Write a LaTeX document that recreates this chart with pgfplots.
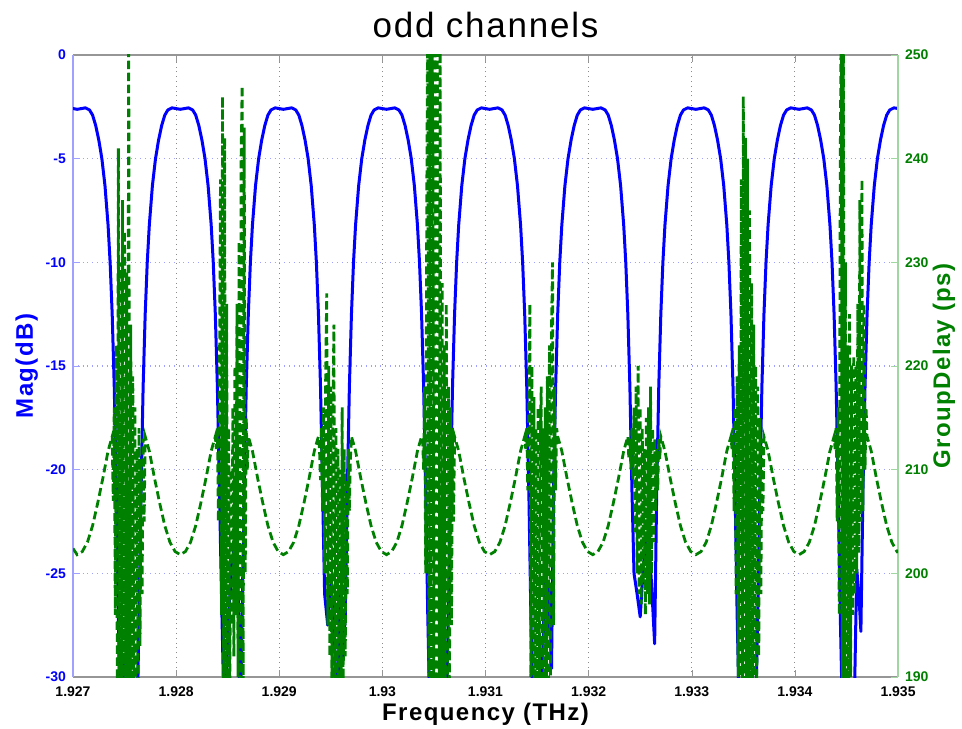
\documentclass[border=0pt]{standalone}
\usepackage{fontspec}
\setmainfont{Liberation Sans}
\usepackage{pgfplots}
\pgfplotsset{compat=1.18}
\definecolor{mblue}{RGB}{0,0,255}
\definecolor{mgreen}{RGB}{0,128,0}
\definecolor{gridblue}{RGB}{160,160,255}
\definecolor{spinegreen}{RGB}{160,215,160}
\definecolor{spinegray}{RGB}{150,150,150}
\newcommand{\tickfont}{\fontsize{7}{8}\selectfont\bfseries}
\newcommand{\labfont}{\fontsize{12}{14}\selectfont\bfseries\addfontfeatures{LetterSpace=6}}
\begin{document}
\begin{tikzpicture}
\path[use as bounding box] (-36.5pt,-25.5pt) rectangle (444.5pt,338.5pt);
\begin{axis}[
  at={(0pt,0pt)}, anchor=south west,
  scale only axis, width=412.5pt, height=311pt,
  xmin=1.927, xmax=1.935, ymin=-30, ymax=0,
  xtick={1.927,1.928,1.929,1.930,1.931,1.932,1.933,1.934,1.935},
  xticklabels={1.927,1.928,1.929,1.93,1.931,1.932,1.933,1.934,1.935},
  ytick={-30,-25,-20,-15,-10,-5,0},
  scaled x ticks=false, scaled y ticks=false,
  /pgf/number format/assume math mode=true,
  axis x line*=box, axis y line*=left,
  x axis line style={spinegray, line width=0.8pt},
  y axis line style={gridblue, line width=0.8pt},
  xtick style={spinegray}, ytick style={gridblue},
  major tick length=3.5pt, tick align=inside,
  xmajorgrids, ymajorgrids,
  x grid style={dotted, black!45, line width=0.6pt},
  y grid style={dotted, gridblue, line width=0.6pt},
  xticklabel style={font=\tickfont, text=black, yshift=-1.5pt},
  yticklabel style={font=\tickfont, text=mblue},
  title={odd channels},
  title style={font=\fontsize{17.5}{20}\selectfont\addfontfeatures{LetterSpace=5}, at={(0.5,1)}, anchor=base, yshift=2.5pt},
  xlabel={Frequency (THz)},
  xlabel style={font=\labfont, text=black, at={(axis description cs:0.5,0)}, anchor=base, yshift=-21.5pt},
  ylabel={Mag(dB)},
  ylabel style={font=\labfont, text=mblue, at={(axis description cs:-0.0485,0.5)}, anchor=base},
]
\addplot[mblue, line width=1.5pt, line join=round, no marks] coordinates {
(1.92700,-2.58) (1.92704,-2.62) (1.92712,-2.55) (1.92716,-2.65) (1.92719,-2.9) (1.92722,-3.4) (1.92725,-4.1) (1.92728,-5.0) (1.92731,-6.3) (1.92734,-8.2) (1.92736,-10) (1.92738,-12.5) (1.92740,-16) (1.92742,-21)
(1.92744,-27) (1.92746,-34) (1.92750,-29) (1.92752,-35) (1.92755,-28) (1.92757,-36) (1.92760,-30.5) (1.92762,-33) (1.92764,-27)
(1.92766,-21) (1.92768,-16) (1.92770,-12.5) (1.92772,-10) (1.92774,-8.2) (1.92777,-6.3) (1.92780,-5.0) (1.92783,-4.1) (1.92786,-3.4) (1.92789,-2.9) (1.92792,-2.65) (1.92796,-2.55) (1.92804,-2.62) (1.92812,-2.55) (1.92816,-2.65) (1.92819,-2.9) (1.92822,-3.4) (1.92825,-4.1) (1.92828,-5.0) (1.92831,-6.3) (1.92834,-8.2) (1.92836,-10) (1.92838,-12.5) (1.92840,-16) (1.92842,-21)
(1.92844,-26) (1.92847,-33) (1.92850,-28) (1.92854,-24.5) (1.92857,-23.4) (1.92860,-25) (1.92862,-33) (1.92864,-27)
(1.92866,-21) (1.92868,-16) (1.92870,-12.5) (1.92872,-10) (1.92874,-8.2) (1.92877,-6.3) (1.92880,-5.0) (1.92883,-4.1) (1.92886,-3.4) (1.92889,-2.9) (1.92892,-2.65) (1.92896,-2.55) (1.92904,-2.62) (1.92912,-2.55) (1.92916,-2.65) (1.92919,-2.9) (1.92922,-3.4) (1.92925,-4.1) (1.92928,-5.0) (1.92931,-6.3) (1.92934,-8.2) (1.92936,-10) (1.92938,-12.5) (1.92940,-16) (1.92942,-21)
(1.92944,-26) (1.92947,-27.5) (1.92950,-25.5) (1.92953,-27) (1.92956,-33) (1.92959,-25.8) (1.92962,-29) (1.92964,-27)
(1.92966,-21) (1.92968,-16) (1.92970,-12.5) (1.92972,-10) (1.92974,-8.2) (1.92977,-6.3) (1.92980,-5.0) (1.92983,-4.1) (1.92986,-3.4) (1.92989,-2.9) (1.92992,-2.65) (1.92996,-2.55) (1.93004,-2.62) (1.93012,-2.55) (1.93016,-2.65) (1.93019,-2.9) (1.93022,-3.4) (1.93025,-4.1) (1.93028,-5.0) (1.93031,-6.3) (1.93034,-8.2) (1.93036,-10) (1.93038,-12.5) (1.93040,-16) (1.93042,-21)
(1.93044,-27) (1.93047,-34) (1.93054,-36) (1.93061,-34) (1.93064,-27)
(1.93066,-21) (1.93068,-16) (1.93070,-12.5) (1.93072,-10) (1.93074,-8.2) (1.93077,-6.3) (1.93080,-5.0) (1.93083,-4.1) (1.93086,-3.4) (1.93089,-2.9) (1.93092,-2.65) (1.93096,-2.55) (1.93104,-2.62) (1.93112,-2.55) (1.93116,-2.65) (1.93119,-2.9) (1.93122,-3.4) (1.93125,-4.1) (1.93128,-5.0) (1.93131,-6.3) (1.93134,-8.2) (1.93136,-10) (1.93138,-12.5) (1.93140,-16) (1.93142,-21)
(1.93144,-27) (1.93147,-34) (1.93152,-35) (1.93156,-28) (1.93158,-25) (1.93160,-27.7) (1.93162,-25.5) (1.93164,-29.6)
(1.93166,-21) (1.93168,-16) (1.93170,-12.5) (1.93172,-10) (1.93174,-8.2) (1.93177,-6.3) (1.93180,-5.0) (1.93183,-4.1) (1.93186,-3.4) (1.93189,-2.9) (1.93192,-2.65) (1.93196,-2.55) (1.93204,-2.62) (1.93212,-2.55) (1.93216,-2.65) (1.93219,-2.9) (1.93222,-3.4) (1.93225,-4.1) (1.93228,-5.0) (1.93231,-6.3) (1.93234,-8.2) (1.93236,-10) (1.93238,-12.5) (1.93240,-16) (1.93242,-21)
(1.93244,-25) (1.93247,-26) (1.93250,-27.1) (1.93252,-25.5) (1.93255,-23.5) (1.93258,-23.2) (1.93261,-25.5) (1.93264,-28.4)
(1.93266,-21) (1.93268,-16) (1.93270,-12.5) (1.93272,-10) (1.93274,-8.2) (1.93277,-6.3) (1.93280,-5.0) (1.93283,-4.1) (1.93286,-3.4) (1.93289,-2.9) (1.93292,-2.65) (1.93296,-2.55) (1.93304,-2.62) (1.93312,-2.55) (1.93316,-2.65) (1.93319,-2.9) (1.93322,-3.4) (1.93325,-4.1) (1.93328,-5.0) (1.93331,-6.3) (1.93334,-8.2) (1.93336,-10) (1.93338,-12.5) (1.93340,-16) (1.93342,-21)
(1.93344,-27) (1.93347,-34) (1.93354,-36) (1.93361,-34) (1.93364,-27)
(1.93366,-21) (1.93368,-16) (1.93370,-12.5) (1.93372,-10) (1.93374,-8.2) (1.93377,-6.3) (1.93380,-5.0) (1.93383,-4.1) (1.93386,-3.4) (1.93389,-2.9) (1.93392,-2.65) (1.93396,-2.55) (1.93404,-2.62) (1.93412,-2.55) (1.93416,-2.65) (1.93419,-2.9) (1.93422,-3.4) (1.93425,-4.1) (1.93428,-5.0) (1.93431,-6.3) (1.93434,-8.2) (1.93436,-10) (1.93438,-12.5) (1.93440,-16) (1.93442,-21)
(1.93444,-27) (1.93447,-34) (1.93452,-35) (1.93457,-33) (1.93460,-24.8) (1.93462,-26) (1.93464,-27.8)
(1.93466,-21) (1.93468,-16) (1.93470,-12.5) (1.93472,-10) (1.93474,-8.2) (1.93477,-6.3) (1.93480,-5.0) (1.93483,-4.1) (1.93486,-3.4) (1.93489,-2.9) (1.93492,-2.65) (1.93496,-2.55) (1.93500,-2.58)
};
\end{axis}
\begin{axis}[
  at={(0pt,0pt)}, anchor=south west,
  scale only axis, width=412.5pt, height=311pt,
  xmin=1.927, xmax=1.935, ymin=190, ymax=250,
  ytick={190,200,210,220,230,240,250},
  scaled y ticks=false,
  /pgf/number format/assume math mode=true,
  axis x line=none, axis y line*=right,
  y axis line style={spinegreen, line width=0.8pt},
  ytick style={spinegreen}, major tick length=3.5pt, tick align=inside,
  yticklabel style={font=\tickfont, text=mgreen},
  ylabel={GroupDelay (ps)},
  ylabel style={font=\labfont, text=mgreen, at={(axis description cs:1.063,0.5)}, anchor=base},
]
\addplot[mgreen, line width=1.4pt, dash pattern=on 4pt off 2pt, no marks] coordinates {
(1.92700,202.4) (1.92704,201.8) (1.92709,202.1) (1.92714,203.0) (1.92719,204.6) (1.92724,206.8) (1.92729,209.2) (1.92734,211.8) (1.92738,213.2)
(1.92739,207) (1.92740,216) (1.92741,196) (1.92742,222) (1.92743,188) (1.92744,241) (1.92745,185) (1.92746,230) (1.92747,184) (1.92748,236) (1.92749,186) (1.92750,233) (1.92751,184) (1.92752,229) (1.92753,185) (1.92754,256) (1.92755,184) (1.92756,224) (1.92757,186) (1.92758,219) (1.92759,184) (1.92760,216) (1.92761,187) (1.92762,212) (1.92763,189) (1.92764,214) (1.92765,193) (1.92766,211) (1.92767,198) (1.92768,213) (1.92769,205)
(1.92770,213.2) (1.92774,211.8) (1.92779,209.2) (1.92784,206.8) (1.92789,204.6) (1.92794,203.0) (1.92799,202.1) (1.92804,201.8) (1.92809,202.1) (1.92814,203.0) (1.92819,204.6) (1.92824,206.8) (1.92829,209.2) (1.92834,211.8) (1.92838,213.2)
(1.92839,212) (1.92840,214) (1.92841,205) (1.92842,218) (1.92843,238) (1.92844,196) (1.92845,246) (1.92846,186) (1.92847,242) (1.92848,185) (1.92849,226) (1.92850,188) (1.92851,214) (1.92852,186) (1.92853,210) (1.92854,195) (1.92855,216) (1.92856,192) (1.92857,220) (1.92858,196) (1.92859,226) (1.92860,190) (1.92861,232) (1.92862,188) (1.92863,240) (1.92864,247) (1.92865,189) (1.92866,243) (1.92867,200) (1.92868,215) (1.92869,210)
(1.92870,213.2) (1.92874,211.8) (1.92879,209.2) (1.92884,206.8) (1.92889,204.6) (1.92894,203.0) (1.92899,202.1) (1.92904,201.8) (1.92909,202.1) (1.92914,203.0) (1.92919,204.6) (1.92924,206.8) (1.92929,209.2) (1.92934,211.8) (1.92938,213.2)
(1.92939,212) (1.92940,209) (1.92941,214) (1.92942,206) (1.92943,216) (1.92944,200) (1.92945,219) (1.92946,227) (1.92947,195) (1.92948,220) (1.92949,192) (1.92950,218) (1.92951,188) (1.92952,215) (1.92953,224) (1.92954,186) (1.92955,214) (1.92956,188) (1.92957,212) (1.92958,185) (1.92959,210) (1.92960,186) (1.92961,216) (1.92962,188) (1.92963,212) (1.92964,192) (1.92965,209) (1.92966,198) (1.92967,212) (1.92968,206) (1.92969,211)
(1.92970,213.2) (1.92974,211.8) (1.92979,209.2) (1.92984,206.8) (1.92989,204.6) (1.92994,203.0) (1.92999,202.1) (1.93004,201.8) (1.93009,202.1) (1.93014,203.0) (1.93019,204.6) (1.93024,206.8) (1.93029,209.2) (1.93034,211.8) (1.93038,213.2)
(1.93039,213) (1.93040,210) (1.93041,218) (1.93042,200) (1.93043,235) (1.93044,256) (1.93045,190) (1.93046,256) (1.93047,186) (1.93048,255) (1.93049,240) (1.93050,185) (1.93051,256) (1.93052,186) (1.93053,256) (1.93054,230) (1.93055,184) (1.93056,252) (1.93057,185) (1.93058,228) (1.93059,186) (1.93060,222) (1.93061,184) (1.93062,226) (1.93063,186) (1.93064,218) (1.93065,188) (1.93066,216) (1.93067,195) (1.93068,214) (1.93069,205)
(1.93070,213.2) (1.93074,211.8) (1.93079,209.2) (1.93084,206.8) (1.93089,204.6) (1.93094,203.0) (1.93099,202.1) (1.93104,201.8) (1.93109,202.1) (1.93114,203.0) (1.93119,204.6) (1.93124,206.8) (1.93129,209.2) (1.93134,211.8) (1.93138,213.2)
(1.93139,212) (1.93140,214) (1.93141,208) (1.93142,216) (1.93143,226) (1.93144,190) (1.93145,220) (1.93146,186) (1.93147,217) (1.93148,185) (1.93149,214) (1.93150,186) (1.93151,216) (1.93152,185) (1.93153,212) (1.93154,218) (1.93155,186) (1.93156,214) (1.93157,188) (1.93158,216) (1.93159,186) (1.93160,219) (1.93161,188) (1.93162,222) (1.93163,190) (1.93164,224) (1.93165,230) (1.93166,195) (1.93167,218) (1.93168,208) (1.93169,214)
(1.93170,213.2) (1.93174,211.8) (1.93179,209.2) (1.93184,206.8) (1.93189,204.6) (1.93194,203.0) (1.93199,202.1) (1.93204,201.8) (1.93209,202.1) (1.93214,203.0) (1.93219,204.6) (1.93224,206.8) (1.93229,209.2) (1.93234,211.8) (1.93238,213.2)
(1.93239,211) (1.93240,213) (1.93241,210) (1.93242,214) (1.93243,209) (1.93244,216) (1.93245,204) (1.93246,218) (1.93247,200) (1.93248,220) (1.93249,198) (1.93250,216) (1.93251,197) (1.93252,214) (1.93253,199) (1.93254,212) (1.93255,196) (1.93256,215) (1.93257,198) (1.93258,216) (1.93259,197) (1.93260,218) (1.93261,200) (1.93262,214) (1.93263,203) (1.93264,213) (1.93265,206) (1.93266,212) (1.93267,208) (1.93268,213) (1.93269,211)
(1.93270,213.2) (1.93274,211.8) (1.93279,209.2) (1.93284,206.8) (1.93289,204.6) (1.93294,203.0) (1.93299,202.1) (1.93304,201.8) (1.93309,202.1) (1.93314,203.0) (1.93319,204.6) (1.93324,206.8) (1.93329,209.2) (1.93334,211.8) (1.93338,213.2)
(1.93339,212) (1.93340,214) (1.93341,206) (1.93342,216) (1.93343,198) (1.93344,219) (1.93345,190) (1.93346,222) (1.93347,186) (1.93348,238) (1.93349,185) (1.93350,246) (1.93351,185) (1.93352,242) (1.93353,186) (1.93354,240) (1.93355,185) (1.93356,235) (1.93357,186) (1.93358,228) (1.93359,184) (1.93360,224) (1.93361,186) (1.93362,220) (1.93363,188) (1.93364,218) (1.93365,192) (1.93366,215) (1.93367,198) (1.93368,213) (1.93369,206)
(1.93370,213.2) (1.93374,211.8) (1.93379,209.2) (1.93384,206.8) (1.93389,204.6) (1.93394,203.0) (1.93399,202.1) (1.93404,201.8) (1.93409,202.1) (1.93414,203.0) (1.93419,204.6) (1.93424,206.8) (1.93429,209.2) (1.93434,211.8) (1.93438,213.2)
(1.93439,212) (1.93440,214) (1.93441,205) (1.93442,216) (1.93443,196) (1.93444,240) (1.93445,256) (1.93446,186) (1.93447,255) (1.93448,185) (1.93449,230) (1.93450,184) (1.93451,222) (1.93452,186) (1.93453,225) (1.93454,190) (1.93455,220) (1.93456,196) (1.93457,221) (1.93458,198) (1.93459,220) (1.93460,200) (1.93461,226) (1.93462,202) (1.93463,236) (1.93464,205) (1.93465,238) (1.93466,206) (1.93467,226) (1.93468,210) (1.93469,216)
(1.93470,213.2) (1.93474,211.8) (1.93479,209.2) (1.93484,206.8) (1.93489,204.6) (1.93494,203.0) (1.93499,202.1) (1.93500,202.0)
};
\end{axis}
\end{tikzpicture}
\end{document}
